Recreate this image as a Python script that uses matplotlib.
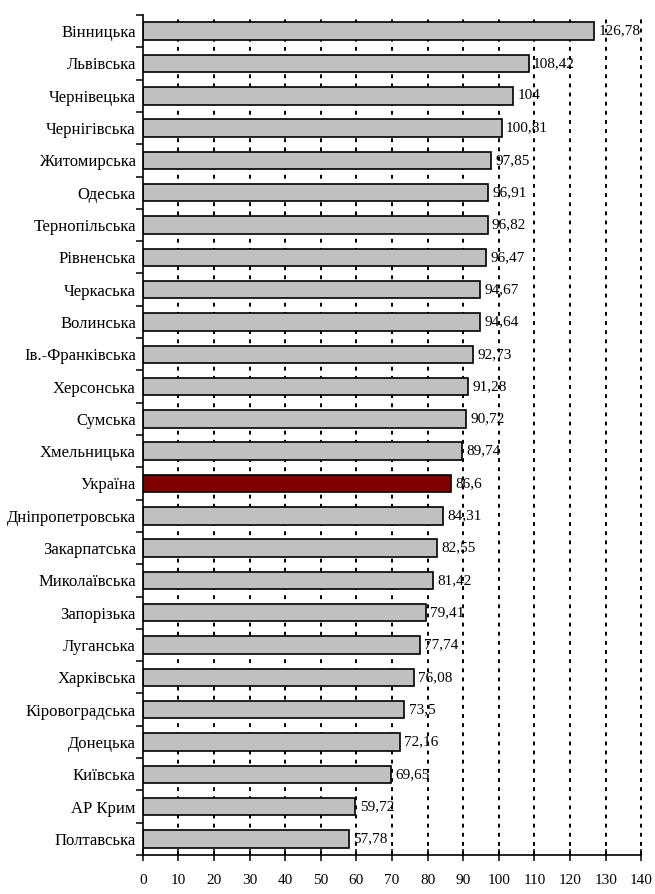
import matplotlib.pyplot as plt
import numpy as np

regions = ['Вінницька', 'Львівська', 'Чернівецька', 'Чернігівська', 'Житомирська',
           'Одеська', 'Тернопільська', 'Рівненська', 'Черкаська', 'Волинська',
           'Ів.-Франківська', 'Херсонська', 'Сумська', 'Хмельницька', 'Україна',
           'Дніпропетровська', 'Закарпатська', 'Миколаївська', 'Запорізька', 'Луганська',
           'Харківська', 'Кіровоградська', 'Донецька', 'Київська', 'АР Крим', 'Полтавська']
values = [126.78, 108.42, 104, 100.81, 97.85,
          96.91, 96.82, 96.47, 94.67, 94.64,
          92.73, 91.28, 90.72, 89.74, 86.6,
          84.31, 82.55, 81.42, 79.41, 77.74,
          76.08, 73.5, 72.16, 69.65, 59.72, 57.78]
labels = ['126,78', '108,42', '104', '100,81', '97,85',
          '96,91', '96,82', '96,47', '94,67', '94,64',
          '92,73', '91,28', '90,72', '89,74', '86,6',
          '84,31', '82,55', '81,42', '79,41', '77,74',
          '76,08', '73,5', '72,16', '69,65', '59,72', '57,78']
xticks = list(range(0, 141, 10))

plt.rcParams['font.family'] = ['Liberation Serif', 'DejaVu Serif']

fig = plt.figure(figsize=(6.55, 8.94), dpi=100)
ax = fig.add_axes([0.218, 0.0436, 0.761, 0.9396])

n = len(regions)
y = np.arange(n)[::-1]
colors = ['#800000' if r == 'Україна' else '#c0c0c0' for r in regions]

ax.barh(y, values, height=0.54, color=colors, edgecolor='black', linewidth=1.2, zorder=2)

for yi, v, lab in zip(y, values, labels):
    ax.text(v + 1.2, yi, lab, va='center', ha='left', fontsize=11, zorder=3)

# dotted vertical gridlines
for xt in xticks[1:]:
    ax.axvline(xt, color='black', linestyle=(0, (2, 2.7)), linewidth=1.4,
               zorder=1, clip_on=False)

ax.set_xlim(0, 140)
ax.set_ylim(-0.5, n - 0.5)
ax.set_xticks(xticks)
ax.set_xticklabels([str(t) for t in xticks], fontsize=11)
ax.tick_params(axis='x', direction='inout', length=8, width=1.1, pad=10)

ax.set_yticks(y)
ax.set_yticklabels(regions, fontsize=12)
ax.set_yticks(np.arange(-0.5, n, 1.0), minor=True)
ax.tick_params(axis='y', which='major', length=0, pad=5)
ax.tick_params(axis='y', which='minor', direction='out', length=5, width=1.1)

for s in ['top', 'right']:
    ax.spines[s].set_visible(False)
ax.spines['left'].set_linewidth(1.2)
ax.spines['bottom'].set_linewidth(1.2)

fig.savefig('out.png', dpi=100)
